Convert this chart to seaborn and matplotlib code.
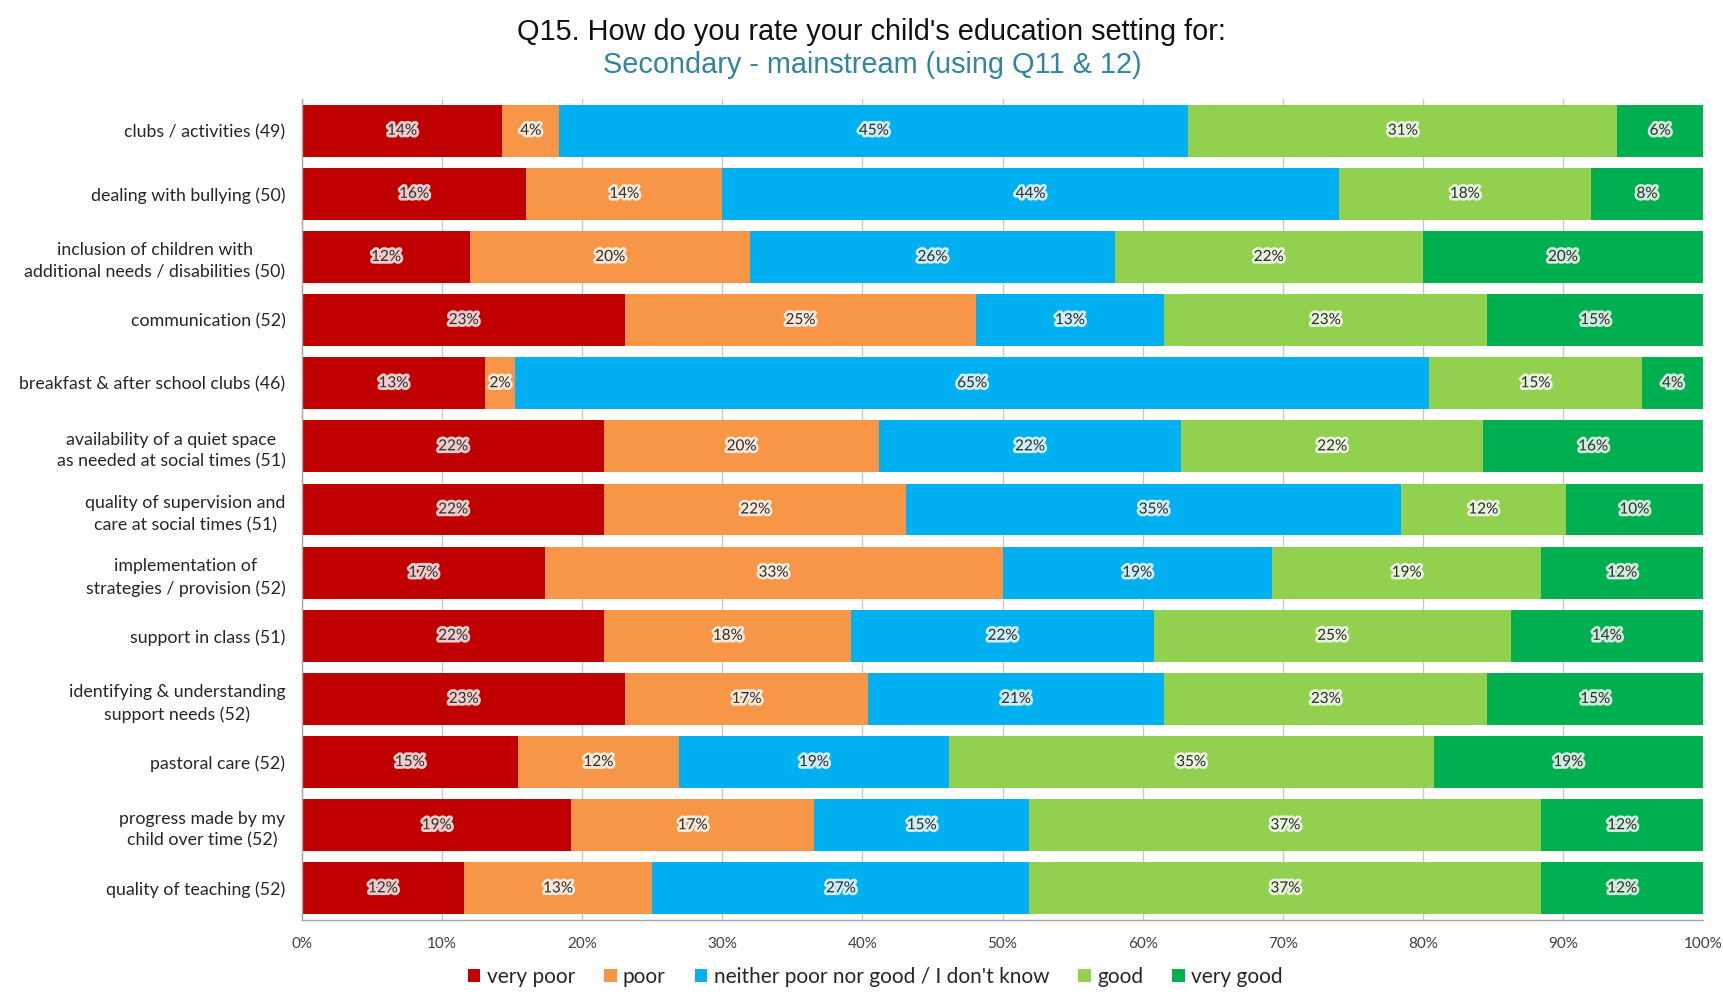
import numpy as np
import pandas as pd
import matplotlib
matplotlib.use("Agg")
import matplotlib.pyplot as plt
import matplotlib.patheffects as pe
from matplotlib.patches import Patch
from matplotlib.ticker import FixedLocator, PercentFormatter
import seaborn as sns

sns.set_theme(style="white")
plt.rcParams["font.family"] = ["Lato", "DejaVu Sans"]

# Survey items (respondent counts shown in brackets)
categories = [
    "clubs / activities (49)",
    "dealing with bullying (50)",
    "inclusion of children with\nadditional needs / disabilities (50)",
    "communication (52)",
    "breakfast & after school clubs (46)",
    "availability of a quiet space\nas needed at social times (51)",
    "quality of supervision and\ncare at social times (51)",
    "implementation of\nstrategies / provision (52)",
    "support in class (51)",
    "identifying & understanding\nsupport needs (52)",
    "pastoral care (52)",
    "progress made by my\nchild over time (52)",
    "quality of teaching (52)",
]
ratings = ["very poor", "poor", "neither poor nor good / I don't know", "good", "very good"]

# Number of responses per rating
very_poor = [7, 8, 6, 12, 6, 11, 11, 9, 11, 12, 8, 10, 6]
poor = [2, 7, 10, 13, 1, 10, 11, 17, 9, 9, 6, 9, 7]
neither = [22, 22, 13, 7, 30, 11, 18, 10, 11, 11, 10, 8, 14]
good = [15, 9, 11, 12, 7, 11, 6, 10, 13, 12, 18, 19, 19]
very_good = [3, 4, 10, 8, 2, 8, 5, 6, 7, 8, 10, 6, 6]

colors = ["#C00000", "#F79646", "#00B0F0", "#92D050", "#00B050"]

counts = np.array([very_poor, poor, neither, good, very_good], dtype=float).T
pct = counts / counts.sum(axis=1, keepdims=True) * 100
right = np.cumsum(pct, axis=1)
left = right - pct

fig = plt.figure(figsize=(17.23, 10.01), dpi=100)
ax = fig.add_axes([0.1753, 0.081, 0.8131, 0.820])

# Stacked 100% bars: draw the cumulative layers from the outermost inwards
for i in range(len(ratings) - 1, -1, -1):
    layer = pd.DataFrame({"item": categories, "right": right[:, i]})
    sns.barplot(data=layer, x="right", y="item", order=categories, orient="h",
                color=colors[i], saturation=1, width=0.82, linewidth=0,
                ax=ax, zorder=2)

# Percentage labels with a soft white halo
halo = [pe.withStroke(linewidth=4, foreground="white", alpha=0.8)]
for j in range(len(categories)):
    for i in range(len(ratings)):
        cx = left[j, i] + pct[j, i] / 2
        ax.text(cx, j, f"{round(pct[j, i]):.0f}%", ha="center", va="center",
                fontsize=11, color="#2E2E2E", path_effects=halo, zorder=4)

ax.set_xlim(0, 100)
ax.set_ylim(len(categories) - 0.5, -0.5)
ax.set_xlabel("")
ax.set_ylabel("")
ax.xaxis.set_major_locator(FixedLocator(np.arange(0, 101, 10)))
ax.xaxis.set_major_formatter(PercentFormatter(decimals=0))
ax.xaxis.grid(True, color="#C8C8C8", linewidth=1)
ax.set_axisbelow(True)

for side in ("top", "right"):
    ax.spines[side].set_visible(False)
for side in ("left", "bottom"):
    ax.spines[side].set_color("#A6A6A6")
    ax.spines[side].set_linewidth(1)

ax.tick_params(axis="x", which="major", direction="out", length=6, color="#A6A6A6",
               labelsize=11, labelcolor="#404040", pad=6)
ax.tick_params(axis="y", which="major", length=0, labelsize=12.8, labelcolor="#262626", pad=12)
ax.yaxis.set_minor_locator(FixedLocator(np.arange(-0.5, len(categories), 1)))
ax.tick_params(axis="y", which="minor", direction="out", length=5, color="#A6A6A6")
for lbl in ax.get_yticklabels():
    lbl.set_multialignment("center")
    lbl.set_linespacing(1.45)

fig.text(0.506, 0.968, "Q15. How do you rate your child's education setting for:",
         ha="center", va="center", fontsize=20.8, color="#111111", family=["Liberation Sans"])
fig.text(0.506, 0.935, "Secondary - mainstream (using Q11 & 12)",
         ha="center", va="center", fontsize=20.8, color="#31859C", family=["Liberation Sans"])

handles = [Patch(facecolor=c, edgecolor="none") for c in colors]
fig.legend(handles, ratings, loc="center", bbox_to_anchor=(0.508, 1 - 977 / 1001),
           ncol=5, frameon=False, fontsize=15, handlelength=0.6, handleheight=0.6,
           handletextpad=0.3, columnspacing=1.4, labelcolor="#262626")

fig.savefig("out.png", dpi=100)
